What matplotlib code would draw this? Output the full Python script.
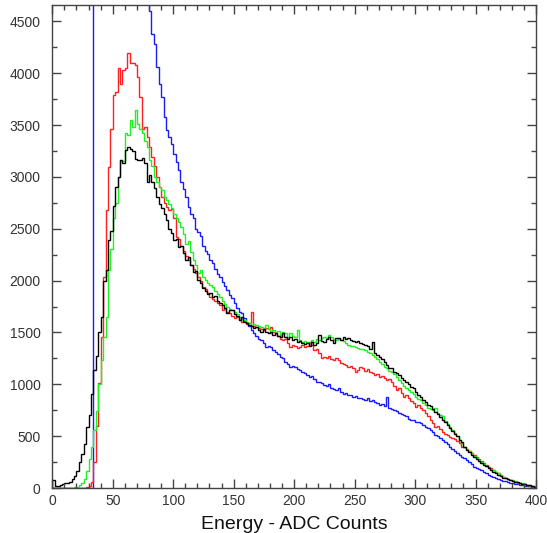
import numpy as np
import matplotlib
matplotlib.use("Agg")
import matplotlib.pyplot as plt
from matplotlib.ticker import MultipleLocator

# bin edges: 2 ADC counts per bin, 0..400
edges = np.arange(0, 402, 2)

blue_counts = [
    0, 0, 0, 0, 0, 0, 0, 0, 0, 0,
    0, 0, 0, 0, 0, 0, 0, 5200, 6100, 6900,
    7400, 7700, 7900, 8000, 7950, 7800, 7600, 7300, 7000, 6700,
    6400, 6100, 5800, 5600, 5400, 5200, 5050, 4900, 4780, 4700,
    4600, 4380, 4285, 4060, 3900, 3770, 3575, 3450, 3380, 3320,
    3225, 3140, 3065, 2950, 2880, 2810, 2710, 2645, 2600, 2500,
    2470, 2430, 2330, 2290, 2260, 2200, 2165, 2110, 2060, 2035,
    1990, 1950, 1905, 1860, 1830, 1780, 1740, 1700, 1685, 1640,
    1590, 1560, 1520, 1490, 1470, 1440, 1425, 1400, 1360, 1370,
    1360, 1330, 1315, 1290, 1265, 1250, 1215, 1200, 1170, 1180,
    1170, 1150, 1140, 1120, 1105, 1090, 1075, 1080, 1050, 1025,
    1025, 1010, 995, 980, 1000, 960, 955, 945, 960, 930,
    910, 920, 895, 900, 880, 890, 865, 870, 860, 850,
    864, 840, 845, 830, 815, 800, 810, 790, 880, 775,
    760, 750, 740, 720, 715, 703, 690, 670, 660, 655,
    640, 635, 623, 610, 590, 575, 560, 540, 510, 500,
    480, 462, 440, 420, 400, 380, 360, 340, 318, 300,
    285, 270, 250, 230, 205, 195, 180, 170, 157, 145,
    130, 120, 109, 100, 90, 80, 70, 64, 58, 52,
    45, 42, 38, 32, 26, 22, 18, 15, 13, 10,
]

red_counts = [
    0, 0, 0, 0, 0, 0, 0, 0, 0, 0,
    0, 0, 0, 2, 5, 20, 60, 250, 600, 1010,
    1460, 2030, 2680, 3095, 3465, 3785, 3815, 4045, 3900, 4030,
    4045, 4190, 4095, 4095, 4080, 3960, 3770, 3465, 3480, 3385,
    3285, 3190, 3100, 3000, 2900, 2810, 2750, 2710, 2680, 2690,
    2600, 2420, 2400, 2330, 2290, 2240, 2200, 2150, 2110, 2070,
    2030, 2000, 1940, 1920, 1880, 1840, 1820, 1800, 1780, 1760,
    1715, 1740, 1700, 1690, 1660, 1640, 1650, 1620, 1600, 1610,
    1580, 1590, 1700, 1560, 1555, 1540, 1530, 1520, 1540, 1530,
    1555, 1500, 1490, 1470, 1440, 1430, 1440, 1400, 1360, 1380,
    1370, 1350, 1360, 1380, 1360, 1370, 1410, 1380, 1335, 1340,
    1300, 1250, 1260, 1250, 1270, 1240, 1235, 1250, 1230, 1210,
    1200, 1190, 1170, 1180, 1160, 1120, 1140, 1170, 1160, 1130,
    1150, 1120, 1110, 1090, 1100, 1075, 1080, 1060, 1040, 1050,
    1020, 980, 945, 960, 920, 880, 900, 870, 840, 820,
    783, 800, 770, 750, 720, 690, 655, 630, 590, 600,
    570, 540, 525, 510, 495, 480, 470, 450, 430, 400,
    400, 380, 360, 340, 318, 300, 280, 260, 240, 225,
    205, 190, 170, 157, 140, 125, 110, 93, 85, 75,
    68, 61, 52, 45, 40, 35, 30, 24, 18, 13,
]

green_counts = [
    0, 0, 0, 0, 0, 0, 0, 0, 0, 5,
    10, 25, 48, 90, 160, 280, 400, 560, 740, 1000,
    1230, 1460, 1650, 2100, 2300, 2600, 2745, 3000, 3160, 3150,
    3420, 3400, 3545, 3480, 3640, 3510, 3460, 3420, 3350, 3285,
    3160, 3100, 3000, 2950, 2900, 2870, 2810, 2780, 2740, 2700,
    2645, 2600, 2560, 2515, 2450, 2355, 2380, 2280, 2195, 2150,
    2070, 2100, 2030, 2005, 1980, 1960, 1940, 1900, 1870, 1840,
    1800, 1770, 1745, 1730, 1715, 1700, 1680, 1650, 1630, 1620,
    1600, 1590, 1570, 1585, 1570, 1560, 1555, 1540, 1570, 1530,
    1490, 1520, 1500, 1510, 1480, 1500, 1490, 1460, 1490, 1470,
    1460, 1520, 1430, 1410, 1420, 1410, 1400, 1425, 1410, 1440,
    1430, 1445, 1460, 1450, 1475, 1460, 1440, 1430, 1445, 1425,
    1420, 1400, 1380, 1370, 1365, 1360, 1350, 1340, 1345, 1330,
    1310, 1300, 1280, 1265, 1240, 1215, 1200, 1170, 1160, 1130,
    1120, 1100, 1070, 1040, 1010, 985, 960, 945, 930, 910,
    880, 860, 850, 820, 800, 770, 760, 750, 770, 720,
    700, 690, 650, 620, 590, 560, 530, 500, 462, 430,
    400, 380, 360, 335, 310, 290, 270, 253, 235, 215,
    195, 180, 173, 150, 140, 125, 109, 100, 90, 80,
    77, 68, 60, 52, 45, 40, 33, 25, 18, 13,
]

black_counts = [
    80, 15, 20, 25, 35, 45, 50, 60, 90, 120,
    160, 250, 330, 420, 590, 700, 910, 1140, 1270, 1500,
    1650, 2000, 2100, 2390, 2480, 2720, 2900, 3000, 3160, 3130,
    3260, 3290, 3270, 3250, 3175, 3160, 3160, 3180, 3130, 2950,
    3020, 2950, 2890, 2810, 2740, 2700, 2645, 2580, 2500, 2460,
    2390, 2400, 2325, 2330, 2270, 2195, 2230, 2150, 2085, 2090,
    2010, 1975, 1930, 1900, 1875, 1880, 1845, 1850, 1800, 1780,
    1760, 1740, 1685, 1720, 1715, 1680, 1660, 1620, 1650, 1600,
    1590, 1570, 1560, 1540, 1550, 1520, 1505, 1530, 1500, 1490,
    1500, 1480, 1490, 1470, 1460, 1490, 1460, 1440, 1460, 1430,
    1440, 1410, 1420, 1400, 1390, 1395, 1370, 1410, 1380, 1400,
    1475, 1420, 1410, 1440, 1460, 1430, 1400, 1445, 1450, 1430,
    1460, 1440, 1445, 1430, 1420, 1410, 1415, 1400, 1390, 1380,
    1370, 1345, 1410, 1300, 1280, 1265, 1240, 1215, 1190, 1160,
    1155, 1120, 1105, 1090, 1060, 1040, 1025, 1000, 970, 960,
    930, 895, 880, 850, 830, 800, 790, 760, 735, 710,
    680, 655, 640, 605, 575, 550, 520, 500, 462, 440,
    400, 366, 350, 320, 302, 280, 260, 240, 222, 210,
    190, 175, 157, 145, 130, 115, 100, 96, 85, 75,
    68, 61, 55, 48, 43, 38, 32, 25, 18, 13,
]

plt.rcParams['font.family'] = ['Liberation Sans', 'DejaVu Sans']

fig = plt.figure(figsize=(5.47, 5.33), dpi=100)
ax = fig.add_axes([0.0956, 0.0844, 0.8843, 0.9068])

ax.stairs(blue_counts, edges, color='#1a1aff', lw=1.0)
ax.stairs(red_counts, edges, color='#ff2020', lw=1.0)
ax.stairs(green_counts, edges, color='#20f020', lw=1.0)
ax.stairs(black_counts, edges, color='black', lw=1.0)

ax.set_xlim(0, 400)
ax.set_ylim(0, 4660)

ax.xaxis.set_major_locator(MultipleLocator(50))
ax.xaxis.set_minor_locator(MultipleLocator(10))
ax.yaxis.set_major_locator(MultipleLocator(500))
ax.yaxis.set_minor_locator(MultipleLocator(250))

ax.tick_params(which='both', direction='in', top=True, right=True,
               color='#444444', width=1.0, labelsize=10, labelcolor='#333333')
ax.tick_params(which='major', length=6.5)
ax.tick_params(which='minor', length=3.3)
ax.tick_params(axis='x', which='major', pad=4)
ax.tick_params(axis='y', which='major', pad=8.5)

for s in ax.spines.values():
    s.set_color('#444444')
    s.set_linewidth(1.0)

ax.set_xlabel('Energy - ADC Counts', fontsize=14, color='#111111', labelpad=6)

fig.savefig('out.png', dpi=100)
